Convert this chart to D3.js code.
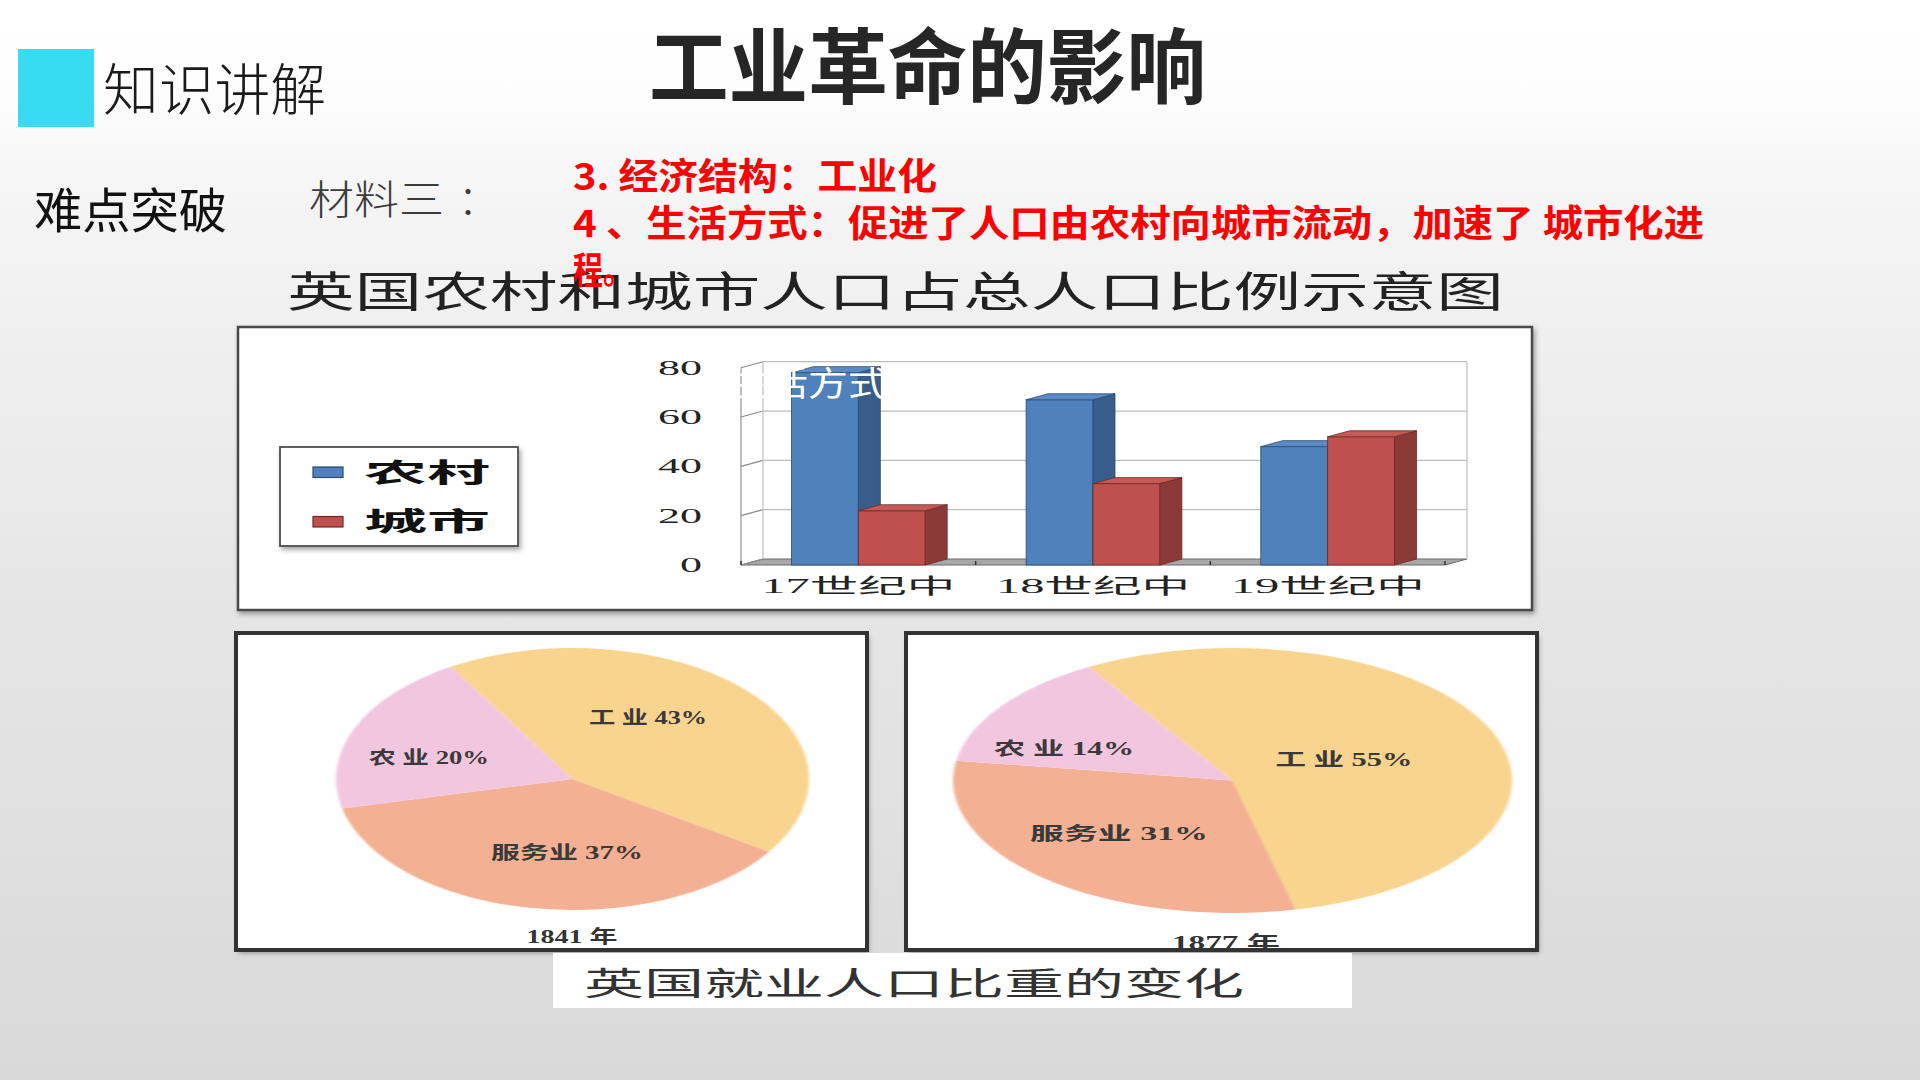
<!DOCTYPE html>
<html><head><meta charset="utf-8">
<script src="https://cdn.jsdelivr.net/npm/d3@7"></script>
<style>html,body{margin:0;padding:0;background:#fff;}svg{display:block;}</style>
</head><body>
<svg id="c" width="1920" height="1080"></svg>
<script>
// ---------------- data ----------------
const categories = ["17世纪中", "18世纪中", "19世纪中"];
const seriesNames = ["农村", "城市"];
const ruralValues = [78, 67, 48];
const urbanValues = [22, 33, 52];
const yTickValues = [0, 20, 40, 60, 80];
const sectorNames = ["工业", "服务业", "农业"];
const share1841 = [43, 37, 20];
const share1877 = [55, 31, 14];
const labels1841 = ["工 业 43%", "服务业 37%", "农 业 20%"];
const labels1877 = ["工 业 55%", "服务业 31%", "农 业 14%"];
const pageTitle = "工业革命的影响";
const barTitle = "英国农村和城市人口占总人口比例示意图";
const pieCaption = "英国就业人口比重的变化";

// ---------------- setup ----------------
const svg = d3.select("#c");
const SANS = "'Noto Sans CJK SC','Noto Sans',sans-serif";
const SERIF = "'Liberation Serif','DejaVu Serif','Noto Sans CJK SC',serif";
const defs = svg.append("defs");
const bg = defs.append("linearGradient").attr("id", "bg").attr("x1", 0).attr("y1", 0).attr("x2", 0).attr("y2", 1);
[[0, "#ffffff"], [0.07, "#fefefe"], [0.2, "#f4f4f4"], [0.55, "#e6e6e6"], [1, "#d9d9d9"]].forEach(s =>
  bg.append("stop").attr("offset", s[0]).attr("stop-color", s[1]));
const sh = defs.append("filter").attr("id", "shadow").attr("x", "-5%").attr("y", "-5%").attr("width", "110%").attr("height", "115%");
sh.append("feDropShadow").attr("dx", 2).attr("dy", 3).attr("stdDeviation", 2.5).attr("flood-color", "#000").attr("flood-opacity", 0.35);
const soft = defs.append("filter").attr("id", "soft");
soft.append("feGaussianBlur").attr("stdDeviation", 1.4);

svg.append("rect").attr("width", 1920).attr("height", 1080).attr("fill", "url(#bg)");

// ---------------- header ----------------
svg.append("rect").attr("x", 18).attr("y", 49).attr("width", 76).attr("height", 78).attr("fill", "#37dcf2");
function txt(t, x, y, size, opts = {}) {
  const e = svg.append("text").attr("x", x).attr("y", y).text(t)
    .attr("font-family", opts.family || SANS).attr("font-size", size)
    .attr("font-weight", opts.weight || 400).attr("fill", opts.fill || "#222");
  if (opts.anchor) e.attr("text-anchor", opts.anchor);
  if (opts.len) e.attr("textLength", opts.len).attr("lengthAdjust", "spacingAndGlyphs");
  return e;
}
txt("知识讲解", 103, 110, 56, { weight: 300, fill: "#1a1a1a", len: 223 });
txt(pageTitle, 649, 97, 82, { weight: 700, fill: "#262626", len: 557 });
txt("难点突破", 34, 228, 48, { weight: 400, fill: "#111", len: 193 });
txt("材料三", 309, 214, 40, { weight: 300, fill: "#3c3c3c", len: 135 });
txt("：", 458, 214, 40, { weight: 300, fill: "#3c3c3c" });

// ---------------- bar chart ----------------
txt(barTitle, 287, 307, 42, { weight: 400, fill: "#222", len: 1217 });

svg.append("rect").attr("x", 238).attr("y", 327).attr("width", 1294).attr("height", 283)
  .attr("fill", "#fff").attr("stroke", "#4a4a4a").attr("stroke-width", 2.5).attr("filter", "url(#shadow)");

const y = d3.scaleLinear().domain([0, 80]).range([565, 565 - 80 * 2.466]);
const x0 = d3.scaleBand().domain(categories).range([741, 1445]).paddingInner(0.43).paddingOuter(0.215);
const x1 = d3.scaleBand().domain(seriesNames).range([0, x0.bandwidth()]);
const DX = 22, DY = -6;
const g = svg.append("g");

// floor
g.append("polygon").attr("points", [[741, y(0)], [1445, y(0)], [1445 + DX, y(0) + DY], [741 + DX, y(0) + DY]].map(p => p.join(",")).join(" "))
  .attr("fill", "#a8a8a8").attr("stroke", "#6b6b6b").attr("stroke-width", 1);
// back wall grid
yTickValues.forEach(v => {
  if (v > 0) g.append("line").attr("x1", 741 + DX).attr("x2", 1445 + DX).attr("y1", y(v) + DY).attr("y2", y(v) + DY)
    .attr("stroke", "#bdbdbd").attr("stroke-width", 1.3);
  g.append("line").attr("x1", 741).attr("x2", 741 + DX).attr("y1", y(v)).attr("y2", y(v) + DY)
    .attr("stroke", "#8a8a8a").attr("stroke-width", 1.2);
});
[[741, 0], [741 + DX, DY], [1445 + DX, DY]].forEach(([xx, off]) =>
  g.append("line").attr("x1", xx).attr("x2", xx).attr("y1", y(0) + off).attr("y2", y(80) + off)
    .attr("stroke", xx === 741 ? "#9a9a9a" : "#c4c4c4").attr("stroke-width", 1.3));
// floor ticks
x0.domain().forEach((c, i) => {
  const xs = i === 0 ? [741] : [];
  xs.concat([x0(c) + x0.bandwidth() + x0.step() * 0.43 / 2]).forEach(xx =>
    g.append("line").attr("x1", xx).attr("x2", xx).attr("y1", y(0) - 4).attr("y2", y(0))
      .attr("stroke", "#333").attr("stroke-width", 1.5));
});

// y tick labels
yTickValues.forEach(v => {
  svg.append("text").attr("x", 702).attr("y", y(v) + 7).attr("text-anchor", "end")
    .attr("font-family", SERIF).attr("font-size", 21).attr("fill", "#222")
    .attr("textLength", 22 * String(v).length).attr("lengthAdjust", "spacingAndGlyphs").text(v);
});

// bars
const colors = {
  "农村": { front: "#4f81bd", side: "#385d8a", top: "#5a8bc6", line: "#2b4a70" },
  "城市": { front: "#c0504d", side: "#8c3a38", top: "#c55a57", line: "#6e2a28" }
};
const values = { "农村": ruralValues, "城市": urbanValues };
categories.forEach((c, ci) => {
  seriesNames.forEach(s => {
    const v = values[s][ci];
    const bx = x0(c) + x1(s), bw = x1.bandwidth(), yt = y(v), yb = y(0);
    const col = colors[s];
    g.append("rect").attr("x", bx).attr("y", yt).attr("width", bw).attr("height", yb - yt)
      .attr("fill", col.front).attr("stroke", col.line).attr("stroke-width", 0.8);
    g.append("polygon").attr("points", [[bx + bw, yt], [bx + bw + DX, yt + DY], [bx + bw + DX, yb + DY], [bx + bw, yb]].map(p => p.join(",")).join(" "))
      .attr("fill", col.side).attr("stroke", col.line).attr("stroke-width", 0.8);
    g.append("polygon").attr("points", [[bx, yt], [bx + DX, yt + DY], [bx + bw + DX, yt + DY], [bx + bw, yt]].map(p => p.join(",")).join(" "))
      .attr("fill", col.top).attr("stroke", col.line).attr("stroke-width", 0.8);
  });
});
// white overlay text artifact
txt("生活方式", 728, 396, 34, { weight: 400, fill: "#ffffff", len: 160 });

// category labels
categories.forEach(c => {
  svg.append("text").attr("x", x0(c) + x0.bandwidth() / 2).attr("y", 593).attr("text-anchor", "middle")
    .attr("font-family", SERIF).attr("font-size", 21).attr("fill", "#222")
    .attr("textLength", 194).attr("lengthAdjust", "spacingAndGlyphs").text(c);
});

// legend
svg.append("rect").attr("x", 280).attr("y", 447).attr("width", 238).attr("height", 99)
  .attr("fill", "#fff").attr("stroke", "#4d4d4d").attr("stroke-width", 1.8).attr("filter", "url(#shadow)");
seriesNames.forEach((s, i) => {
  const yy = 467 + i * 49.5;
  svg.append("rect").attr("x", 313).attr("y", yy).attr("width", 30).attr("height", 10.5)
    .attr("fill", colors[s].front).attr("stroke", colors[s].line).attr("stroke-width", 1.2);
  txt(s, 364, yy + 14.5, 26, { weight: 700, fill: "#111", len: 126 });
});

// ---------------- pies ----------------
const pieColors = d3.scaleOrdinal().domain(sectorNames).range(["#f9d48f", "#f4b093", "#f3c6e0"]);
const pieGen = d3.pie().sort(null).startAngle(-31 * Math.PI / 180).endAngle(329 * Math.PI / 180);
function drawPie(frameX, shares, labels, year, geo) {
  svg.append("rect").attr("x", frameX).attr("y", 633).attr("width", 631).attr("height", 317)
    .attr("fill", "#fff").attr("filter", "url(#shadow)");
  const pg = svg.append("g").attr("transform", `translate(${geo.cx},${geo.cy}) scale(1,${geo.ry / geo.rx})`)
    .attr("filter", "url(#soft)");
  const arc = d3.arc().innerRadius(0).outerRadius(geo.rx);
  pg.selectAll("path").data(pieGen(shares)).join("path")
    .attr("d", arc).attr("fill", (d, i) => pieColors(sectorNames[i]));
  labels.forEach((l, i) => {
    const p = geo.labels[i];
    svg.append("text").attr("x", p[0]).attr("y", p[1]).attr("text-anchor", "middle")
      .attr("font-family", SERIF).attr("font-size", 18).attr("font-weight", 700).attr("fill", "#3a3a3a")
      .attr("textLength", p[2]).attr("lengthAdjust", "spacingAndGlyphs").text(l);
  });
  svg.append("text").attr("x", geo.year[0]).attr("y", geo.year[1]).attr("text-anchor", "middle")
    .attr("font-family", SERIF).attr("font-size", 18).attr("font-weight", 700).attr("fill", "#333")
    .attr("textLength", geo.year[2]).attr("lengthAdjust", "spacingAndGlyphs").text(year + " 年");
  svg.append("rect").attr("x", frameX).attr("y", 633).attr("width", 631).attr("height", 317)
    .attr("fill", "none").attr("stroke", "#333").attr("stroke-width", 4);
}
drawPie(236, share1841, labels1841, 1841, {
  cx: 572.5, cy: 779, rx: 236.5, ry: 131,
  labels: [[648, 724, 118], [567, 859, 152], [429, 764, 120]], year: [572, 943, 91]
});
drawPie(906, share1877, labels1877, 1877, {
  cx: 1232.5, cy: 780.5, rx: 279.5, ry: 132.5,
  labels: [[1344, 766, 137], [1119, 840, 178], [1064, 755, 140]], year: [1226, 949, 108]
});

// caption
svg.append("rect").attr("x", 553).attr("y", 953).attr("width", 799).attr("height", 55).attr("fill", "#fff");
txt(pieCaption, 584, 995, 32, { weight: 400, fill: "#333", len: 660 });

// ---------------- red text ----------------
const red = "#ff0000";
txt("3. 经济结构：工业化", 573, 190, 37, { weight: 700, fill: red, len: 364 });
txt("4 、生活方式：促进了人口由农村向城市流动，加速了 城市化进", 573, 237, 37, { weight: 700, fill: red, len: 1131 });
txt("程。", 573, 284, 37, { weight: 700, fill: red, len: 60 });
</script>
</body></html>
